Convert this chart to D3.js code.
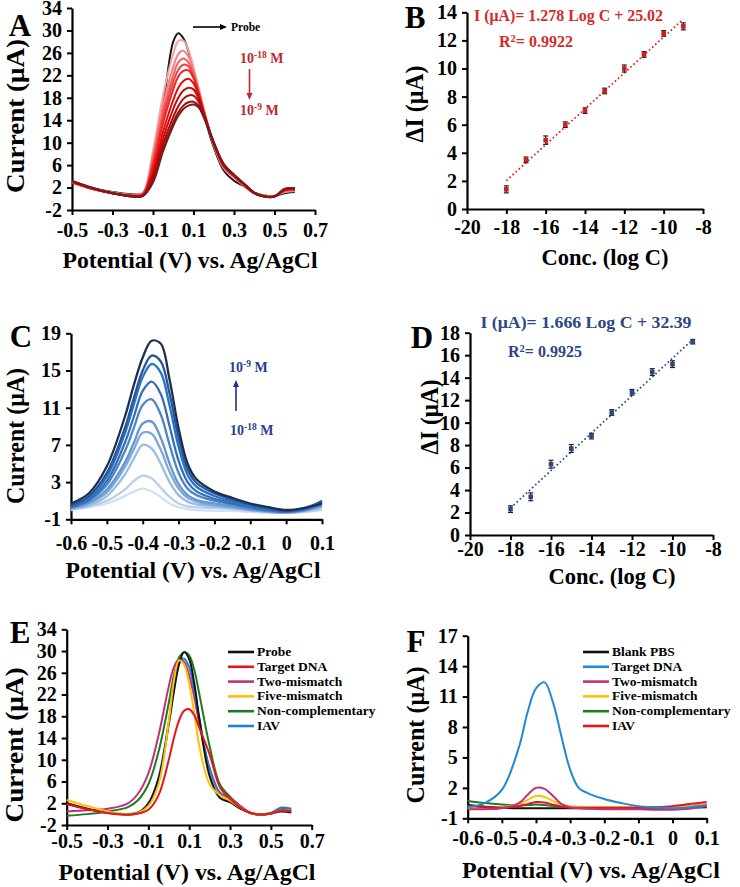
<!DOCTYPE html>
<html><head><meta charset="utf-8">
<script src="https://cdn.jsdelivr.net/npm/d3@7"></script>
<style>
body{margin:0;background:#fff}
svg{display:block}
text{font-family:"Liberation Serif","Times New Roman",serif;font-weight:bold}
</style>
</head><body><script>
// ---------- data ----------
// A: DPV of probe and after hybridisation (10^-18 .. 10^-9 M)
const potA = [-0.5,-0.4,-0.3,-0.2,-0.15,-0.1,-0.05,0,0.025,0.05,0.075,0.1,0.125,0.15,0.2,0.25,0.3,0.35,0.4,0.45,0.5,0.55,0.6];
const probeA = [3.0,1.9,1.2,0.8,1.0,6.0,16.5,28.0,29.5,28.6,26.3,23.0,19.0,15.2,9.2,5.0,3.2,2.2,1.1,0.6,0.5,1.0,1.2];
const hybA = [
  [2.9,1.8,1.1,0.7,1.1,8.5,18.5,25.8,28.1,28.2,26.5,23.5,19.8,16.0,9.6,5.4,3.8,2.3,1.1,0.6,0.5,1.2,1.4],
  [2.9,1.8,1.1,0.7,1.0,7.8,16.8,23.5,25.8,26.4,25.3,22.8,19.5,15.9,9.7,5.5,3.9,2.3,1.1,0.5,0.5,1.3,1.5],
  [2.9,1.8,1.0,0.6,0.9,7.0,15.5,22.0,24.3,25.0,24.3,22.2,19.2,15.8,9.8,5.6,4.0,2.4,1.0,0.5,0.5,1.4,1.5],
  [3.0,1.8,1.0,0.6,0.8,6.4,14.5,20.8,23.0,23.9,23.6,21.8,19.0,15.7,9.8,5.7,4.0,2.4,1.0,0.5,0.5,1.5,1.6],
  [3.0,1.8,1.0,0.5,0.7,5.8,13.5,19.5,21.8,22.8,22.9,21.5,18.9,15.6,9.9,5.8,4.1,2.5,1.0,0.4,0.4,1.5,1.7],
  [3.0,1.8,1.0,0.5,0.6,5.0,12.0,17.6,19.8,21.0,21.4,20.6,18.5,15.4,9.9,5.9,4.1,2.5,1.0,0.4,0.4,1.6,1.7],
  [3.1,1.9,1.0,0.5,0.6,4.3,10.8,16.0,18.0,19.3,19.8,19.5,17.9,15.2,10.0,6.0,4.2,2.6,1.0,0.4,0.4,1.6,1.8],
  [3.1,1.9,1.0,0.4,0.5,3.7,9.8,14.6,16.5,17.8,18.4,18.4,17.3,15.0,10.0,6.0,4.2,2.6,1.0,0.4,0.4,1.7,1.8],
  [3.2,1.9,1.0,0.4,0.5,3.2,9.0,13.6,15.4,16.6,17.2,17.3,16.6,14.7,10.0,6.1,4.3,2.7,1.1,0.4,0.4,1.7,1.9],
  [3.2,2.0,1.0,0.4,0.5,2.9,8.5,13.0,14.8,16.0,16.6,16.8,16.3,14.6,10.1,6.2,4.3,2.7,1.1,0.4,0.4,1.8,1.9]
];

// B: calibration, probe signal decrease
const logC = [-18,-17,-16,-15,-14,-13,-12,-11,-10,-9];
const dIB = [1.4,3.5,4.9,6.0,7.0,8.4,10.0,11.0,12.5,13.0];
const errB = [0.25,0.2,0.3,0.2,0.2,0.2,0.25,0.2,0.2,0.25];
const fitB = [1.278,25.02];

// C: DPV of hybridisation indicator, 10^-18 .. 10^-9 M
const potC = [-0.6,-0.55,-0.5,-0.45,-0.425,-0.4,-0.375,-0.35,-0.325,-0.3,-0.275,-0.25,-0.2,-0.15,-0.1,-0.05,0,0.05,0.1];
const indC = [
  [0.0,0.3,0.7,1.5,2.0,2.3,2.0,1.4,0.7,0.3,0.1,0.0,-0.1,-0.1,-0.2,-0.3,-0.3,-0.2,0.0],
  [0.1,0.4,1.0,2.2,3.1,3.7,3.4,2.4,1.4,0.7,0.4,0.3,0.2,0.1,-0.1,-0.2,-0.3,-0.2,0.1],
  [0.1,0.5,1.5,3.8,5.5,7.0,6.6,5.0,3.0,1.6,0.9,0.6,0.4,0.2,0.0,-0.2,-0.3,-0.1,0.3],
  [0.2,0.7,1.9,4.6,6.5,8.3,8.2,6.5,4.1,2.3,1.3,0.9,0.5,0.3,0.0,-0.2,-0.3,-0.1,0.4],
  [0.2,0.8,2.2,5.1,7.2,9.3,9.5,7.8,5.0,2.8,1.6,1.1,0.7,0.4,0.1,-0.1,-0.2,0.0,0.5],
  [0.3,1.0,2.7,6.3,8.8,11.3,11.9,10.3,7.0,4.0,2.3,1.6,1.0,0.6,0.2,-0.1,-0.2,0.0,0.6],
  [0.3,1.1,3.1,7.2,10.0,12.8,13.8,12.5,9.0,5.3,3.0,2.0,1.2,0.7,0.3,0.0,-0.2,0.1,0.8],
  [0.4,1.3,3.6,8.2,11.3,14.3,15.7,14.8,11.2,6.8,3.8,2.5,1.5,0.9,0.5,0.1,-0.1,0.1,1.0],
  [0.5,1.5,4.0,8.8,12.0,15.0,16.6,16.0,12.5,7.8,4.4,2.9,1.8,1.1,0.6,0.2,-0.1,0.2,0.9],
  [0.7,1.8,4.7,10.0,13.4,16.4,18.2,17.9,14.0,8.8,5.0,3.3,2.0,1.3,0.7,0.3,0.0,0.2,0.7]
];

// D: calibration, indicator signal increase
const dID = [2.3,3.4,6.3,7.7,8.8,10.9,12.7,14.5,15.2,17.2];
const errD = [0.3,0.35,0.35,0.35,0.25,0.25,0.25,0.3,0.3,0.2];
const fitD = [1.666,32.39];

// E: selectivity, probe signal
const namesE = ["Probe","Target DNA","Two-mismatch","Five-mismatch","Non-complementary","IAV"];
const potE = [-0.5,-0.4,-0.3,-0.2,-0.15,-0.1,-0.05,0,0.025,0.05,0.075,0.1,0.125,0.15,0.2,0.25,0.3,0.35,0.4,0.45,0.5,0.55,0.6];
const probeE = [2.0,1.0,0.3,0.0,0.3,2.0,6.5,16.5,22.5,27.5,29.8,28.5,24.0,17.5,7.0,3.0,2.2,1.0,0.2,-0.1,0.1,0.5,0.3];
const targetE = [1.8,0.9,0.2,-0.1,0.1,0.8,3.5,10.0,14.0,17.2,19.0,19.3,18.2,15.8,11.0,5.0,2.8,1.2,0.2,-0.1,0.1,0.7,0.5];
const twoMisE = [0.5,0.7,1.0,2.0,3.8,7.5,14.5,23.5,27.0,28.5,28.0,25.5,21.5,16.5,8.5,4.0,3.0,1.5,0.3,0.0,0.2,0.8,0.6];
const fiveMisE = [2.6,1.5,0.5,0.0,0.2,1.5,5.5,17.0,24.5,28.3,27.5,24.0,18.5,12.5,5.5,3.5,2.5,1.2,0.2,-0.1,0.1,0.7,0.6];
const nonCompE = [-0.3,0.0,0.5,1.3,2.6,5.5,11.5,20.5,25.5,28.8,29.8,29.2,26.5,22.0,12.5,5.5,3.2,1.5,0.2,-0.1,0.1,0.9,0.8];
const iavE = [1.9,1.0,0.2,-0.1,0.2,1.8,6.8,17.0,23.5,28.0,28.6,27.0,22.8,17.5,8.2,3.8,2.6,1.2,0.2,-0.1,0.2,1.2,1.0];

// F: selectivity, indicator signal
const namesF = ["Blank PBS","Target DNA","Two-mismatch","Five-mismatch","Non-complementary","IAV"];
const potF = [-0.6,-0.55,-0.5,-0.45,-0.425,-0.4,-0.375,-0.35,-0.325,-0.3,-0.275,-0.25,-0.2,-0.15,-0.1,-0.05,0,0.05,0.1];
const blankF = [0.3,0.15,0.05,0.0,0.0,0.0,0.0,0.0,0.0,0.0,0.0,0.0,0.0,0.0,0.0,0.0,0.0,0.05,0.1];
const targetF = [0.1,0.5,1.8,6.0,9.4,11.8,12.4,10.4,7.0,3.8,2.0,1.5,0.9,0.5,0.2,0.1,0.0,0.1,0.3];
const twoMisF = [-0.1,-0.1,0.0,0.5,1.3,2.0,1.9,1.2,0.4,0.1,0.0,-0.05,-0.1,-0.1,-0.1,-0.15,-0.15,-0.05,0.2];
const fiveMisF = [0.0,0.0,0.1,0.4,0.8,1.2,1.1,0.7,0.35,0.2,0.15,0.1,0.1,0.1,0.1,0.1,0.1,0.2,0.4];
const nonCompF = [0.7,0.5,0.35,0.25,0.3,0.35,0.3,0.2,0.15,0.1,0.1,0.05,0.05,0.05,0.05,0.05,0.1,0.2,0.3];
const iavF = [0.2,0.1,0.05,0.2,0.4,0.6,0.55,0.35,0.15,0.05,0.05,0.05,0.05,0.05,0.05,0.1,0.2,0.4,0.6];

// ticks
const xTicksA = [-0.5,-0.3,-0.1,0.1,0.3,0.5,0.7];
const yTicksA = [-2,2,6,10,14,18,22,26,30,34];
const xTicksC = [-0.6,-0.5,-0.4,-0.3,-0.2,-0.1,0,0.1];
const yTicksC = [-1,3,7,11,15,19];
const xTicksCal = [-20,-18,-16,-14,-12,-10,-8];
const yTicksB = [0,2,4,6,8,10,12,14];
const yTicksD = [0,2,4,6,8,10,12,14,16,18];
const yTicksF = [-1,2,5,8,11,14,17];

// ---------- drawing ----------
const W = 740, H = 887;
const svg = d3.select("body").append("svg").attr("width", W).attr("height", H);
svg.append("rect").attr("width", W).attr("height", H).attr("fill", "#fff");

const redCols = ["#f6a3a3","#f48080","#f15f5f","#ee4040","#eb2424","#e20c0c","#cc0606","#b00a0a","#921414","#781c1c"];
const blueCols = ["#d3e1f3","#b8cfeb","#98bce4","#7ea8da","#6596d2","#4c86c8","#3a6db5","#1f78c8","#2c5597","#1e2e52"];
const colE = ["#111111","#e3161c","#c2307a","#ffc000","#1e7b22","#1f80d8"];
const colF = ["#111111","#1f88d8","#c2307a","#ffc000","#1e7b22","#e3161c"];

// plain hyphen for negatives, as in the figure
function fmtV(v){ return v === 0 ? "0" : v.toFixed(1); }
function fmtI(v){ return String(v); }

function frame(x, y, xt, yt, xfmt, opts){
  const g = svg.append("g");
  const ya = g.append("g").attr("transform", "translate(" + x.range()[0] + ",0)")
    .call(d3.axisLeft(y).tickValues(yt).tickSize(5).tickSizeOuter(0).tickPadding(5).tickFormat(fmtI));
  const xa = g.append("g").attr("transform", "translate(0," + y.range()[0] + ")")
    .call(d3.axisBottom(x).tickValues(xt).tickSize(5).tickSizeOuter(0).tickPadding(opts.xpad).tickFormat(xfmt));
  [xa, ya].forEach(a => {
    a.select(".domain").attr("stroke", "#000").attr("stroke-width", 2.2);
    a.selectAll(".tick line").attr("stroke", "#000").attr("stroke-width", 2);
    a.selectAll("text").attr("fill", "#000").style("font-size", opts.fs + "px")
      .style("font-family", '"Liberation Serif",serif').style("font-weight", "bold");
  });
  return g;
}

function label(t, x, y, size, len, rot, col){
  const el = svg.append("text").attr("text-anchor", "middle").style("font-size", size + "px")
    .attr("fill", col || "#000").text(t);
  if (rot) el.attr("transform", "translate(" + x + "," + y + ") rotate(-90)");
  else el.attr("x", x).attr("y", y);
  if (len) el.attr("textLength", len).attr("lengthAdjust", "spacingAndGlyphs");
  return el;
}

function curves(x, y, pot, series, cols, width){
  const line = d3.line().x((d, i) => x(pot[i])).y(d => y(d)).curve(d3.curveCatmullRom.alpha(0.5));
  series.forEach((s, i) => {
    svg.append("path").attr("d", line(s)).attr("fill", "none")
      .attr("stroke", cols[i]).attr("stroke-width", width).attr("stroke-linejoin", "round");
  });
}

function powerText(x, y, exp, col){
  const t = svg.append("text").attr("x", x).attr("y", y).attr("fill", col).style("font-size", "14px");
  t.append("tspan").text("10");
  t.append("tspan").attr("dy", -5.5).style("font-size", "9.5px").text(exp);
  t.append("tspan").attr("dy", 5.5).text(" M");
}

function arrow(x1, y1, x2, y2, col, w){
  const ang = Math.atan2(y2 - y1, x2 - x1);
  svg.append("line").attr("x1", x1).attr("y1", y1).attr("x2", x2 - 5 * Math.cos(ang)).attr("y2", y2 - 5 * Math.sin(ang))
    .attr("stroke", col).attr("stroke-width", w);
  const p = [[x2, y2],
    [x2 - 7 * Math.cos(ang) + 3 * Math.sin(ang), y2 - 7 * Math.sin(ang) - 3 * Math.cos(ang)],
    [x2 - 7 * Math.cos(ang) - 3 * Math.sin(ang), y2 - 7 * Math.sin(ang) + 3 * Math.cos(ang)]];
  svg.append("path").attr("d", "M" + p.join("L") + "Z").attr("fill", col);
}

function calib(x, y, yv, err, fit, col, markCol){
  const fl = d3.line().x(d => x(d)).y(d => y(fit[0] * d + fit[1]));
  svg.append("path").attr("d", fl([logC[0], logC[logC.length - 1]])).attr("fill", "none")
    .attr("stroke", col).attr("stroke-width", 1.8).attr("stroke-dasharray", "1.6,2.6");
  logC.forEach((c, i) => {
    const cx = x(c);
    svg.append("line").attr("x1", cx).attr("x2", cx).attr("y1", y(yv[i] - err[i])).attr("y2", y(yv[i] + err[i]))
      .attr("stroke", "#222").attr("stroke-width", 1.2);
    [yv[i] - err[i], yv[i] + err[i]].forEach(v => svg.append("line")
      .attr("x1", cx - 2.5).attr("x2", cx + 2.5).attr("y1", y(v)).attr("y2", y(v))
      .attr("stroke", "#222").attr("stroke-width", 1.2));
    svg.append("rect").attr("x", cx - 2.3).attr("y", y(yv[i]) - 2.3).attr("width", 4.6).attr("height", 4.6)
      .attr("fill", markCol);
  });
}

function rSquared(x, y, val, col, len){
  const r = svg.append("text").attr("x", x).attr("y", y).attr("fill", col).style("font-size", "16px");
  r.append("tspan").text("R");
  r.append("tspan").attr("dy", -5.5).style("font-size", "10.5px").text("2");
  r.append("tspan").attr("dy", 5.5).text("= " + val);
}

function legend(x0, y0, names, cols){
  names.forEach((n, i) => {
    const yy = y0 + i * 14.8;
    svg.append("line").attr("x1", x0).attr("x2", x0 + 26).attr("y1", yy).attr("y2", yy)
      .attr("stroke", cols[i]).attr("stroke-width", 2.6);
    svg.append("text").attr("x", x0 + 29).attr("y", yy + 4).style("font-size", "13.5px").attr("fill", "#000").text(n);
  });
}

// ----- Panel A -----
{
  const x = d3.scaleLinear().domain([-0.5, 0.7]).range([72, 315]);
  const y = d3.scaleLinear().domain([-2, 34]).range([210, 8]);
  frame(x, y, xTicksA, yTicksA, fmtV, {fs: 20, xpad: 8});
  curves(x, y, potA, [probeA], ["#1a1a1a"], 2);
  curves(x, y, potA, hybA, redCols, 2);
  label("A", 20, 36, 31);
  label("Current (μA)", 24, 116, 26, 154, true);
  label("Potential (V) vs. Ag/AgCl", 190, 268, 24, 255);
  arrow(193, 27, 227, 27, "#000", 1.6);
  svg.append("text").attr("x", 231).attr("y", 31).style("font-size", "11.5px").attr("fill", "#000").text("Probe");
  powerText(240, 63, "-18", "#c1272d");
  arrow(249.5, 69, 249.5, 100, "#c1272d", 1.6);
  powerText(240, 115, "-9", "#c1272d");
}

// ----- Panel B -----
{
  const x = d3.scaleLinear().domain([-20, -8]).range([467, 703]);
  const y = d3.scaleLinear().domain([0, 14]).range([209, 12.3]);
  frame(x, y, xTicksCal, yTicksB, fmtI, {fs: 20, xpad: 6});
  calib(x, y, dIB, errB, fitB, "#e02020", "#d41a1a");
  label("B", 415, 28, 31);
  label("ΔI (μA)", 423, 104, 25, 77, true);
  label("Conc. (log C)", 605, 265, 24, 127);
  label("I (μA)= 1.278 Log C + 25.02", 568.5, 21, 16, 189, false, "#d42a2a");
  rSquared(499, 47, "0.9922", "#d42a2a");
}

// ----- Panel C -----
{
  const x = d3.scaleLinear().domain([-0.6, 0.1]).range([71, 322]);
  const y = d3.scaleLinear().domain([-1, 19]).range([519.3, 333.3]);
  frame(x, y, xTicksC, yTicksC, fmtV, {fs: 20, xpad: 12});
  curves(x, y, potC, indC, blueCols, 2.3);
  label("C", 21, 347, 31);
  label("Current (μA)", 24, 436, 26, 136, true);
  label("Potential (V) vs. Ag/AgCl", 193, 578, 24, 255);
  powerText(229, 372, "-9", "#2b3d8f");
  arrow(236, 411, 236, 380, "#1f2f8a", 1.6);
  powerText(230, 435, "-18", "#2b3d8f");
}

// ----- Panel D -----
{
  const x = d3.scaleLinear().domain([-20, -8]).range([470, 713]);
  const y = d3.scaleLinear().domain([0, 18]).range([535, 332.7]);
  frame(x, y, xTicksCal, yTicksD, fmtI, {fs: 20, xpad: 2});
  calib(x, y, dID, errD, fitD, "#2b4785", "#2b4785");
  label("D", 422, 348, 31);
  label("ΔI (μA)", 438, 417, 25, 75, true);
  label("Conc. (log C)", 612, 584, 23, 127);
  label("I (μA)= 1.666 Log C + 32.39", 586, 328, 16, 211, false, "#2b4785");
  rSquared(508, 357, "0.9925", "#2b4785");
}

// ----- Panel E -----
{
  const x = d3.scaleLinear().domain([-0.5, 0.7]).range([66.7, 311.7]);
  const y = d3.scaleLinear().domain([-2, 34]).range([825, 629.3]);
  frame(x, y, xTicksA, yTicksA, fmtV, {fs: 20, xpad: 4});
  curves(x, y, potE, [nonCompE, twoMisE, iavE, probeE, fiveMisE, targetE],
    [colE[4], colE[2], colE[5], colE[0], colE[3], colE[1]], 2);
  label("E", 20, 643, 31);
  label("Current (μA)", 23, 745, 26, 155, true);
  label("Potential (V) vs. Ag/AgCl", 187, 880, 24, 257);
  legend(228, 652, namesE, colE);
}

// ----- Panel F -----
{
  const x = d3.scaleLinear().domain([-0.6, 0.1]).range([467.7, 706.7]);
  const y = d3.scaleLinear().domain([-1, 17]).range([818.3, 635.7]);
  frame(x, y, xTicksC, yTicksF, fmtV, {fs: 20, xpad: 8});
  curves(x, y, potF, [blankF, nonCompF, fiveMisF, iavF, twoMisF, targetF],
    [colF[0], colF[4], colF[3], colF[5], colF[2], colF[1]], 2);
  label("F", 416, 652, 31);
  label("Current (μA)", 424, 735, 26, 137, true);
  label("Potential (V) vs. Ag/AgCl", 591, 878, 24, 258);
  legend(583, 652, namesF, colF);
}
</script></body></html>
